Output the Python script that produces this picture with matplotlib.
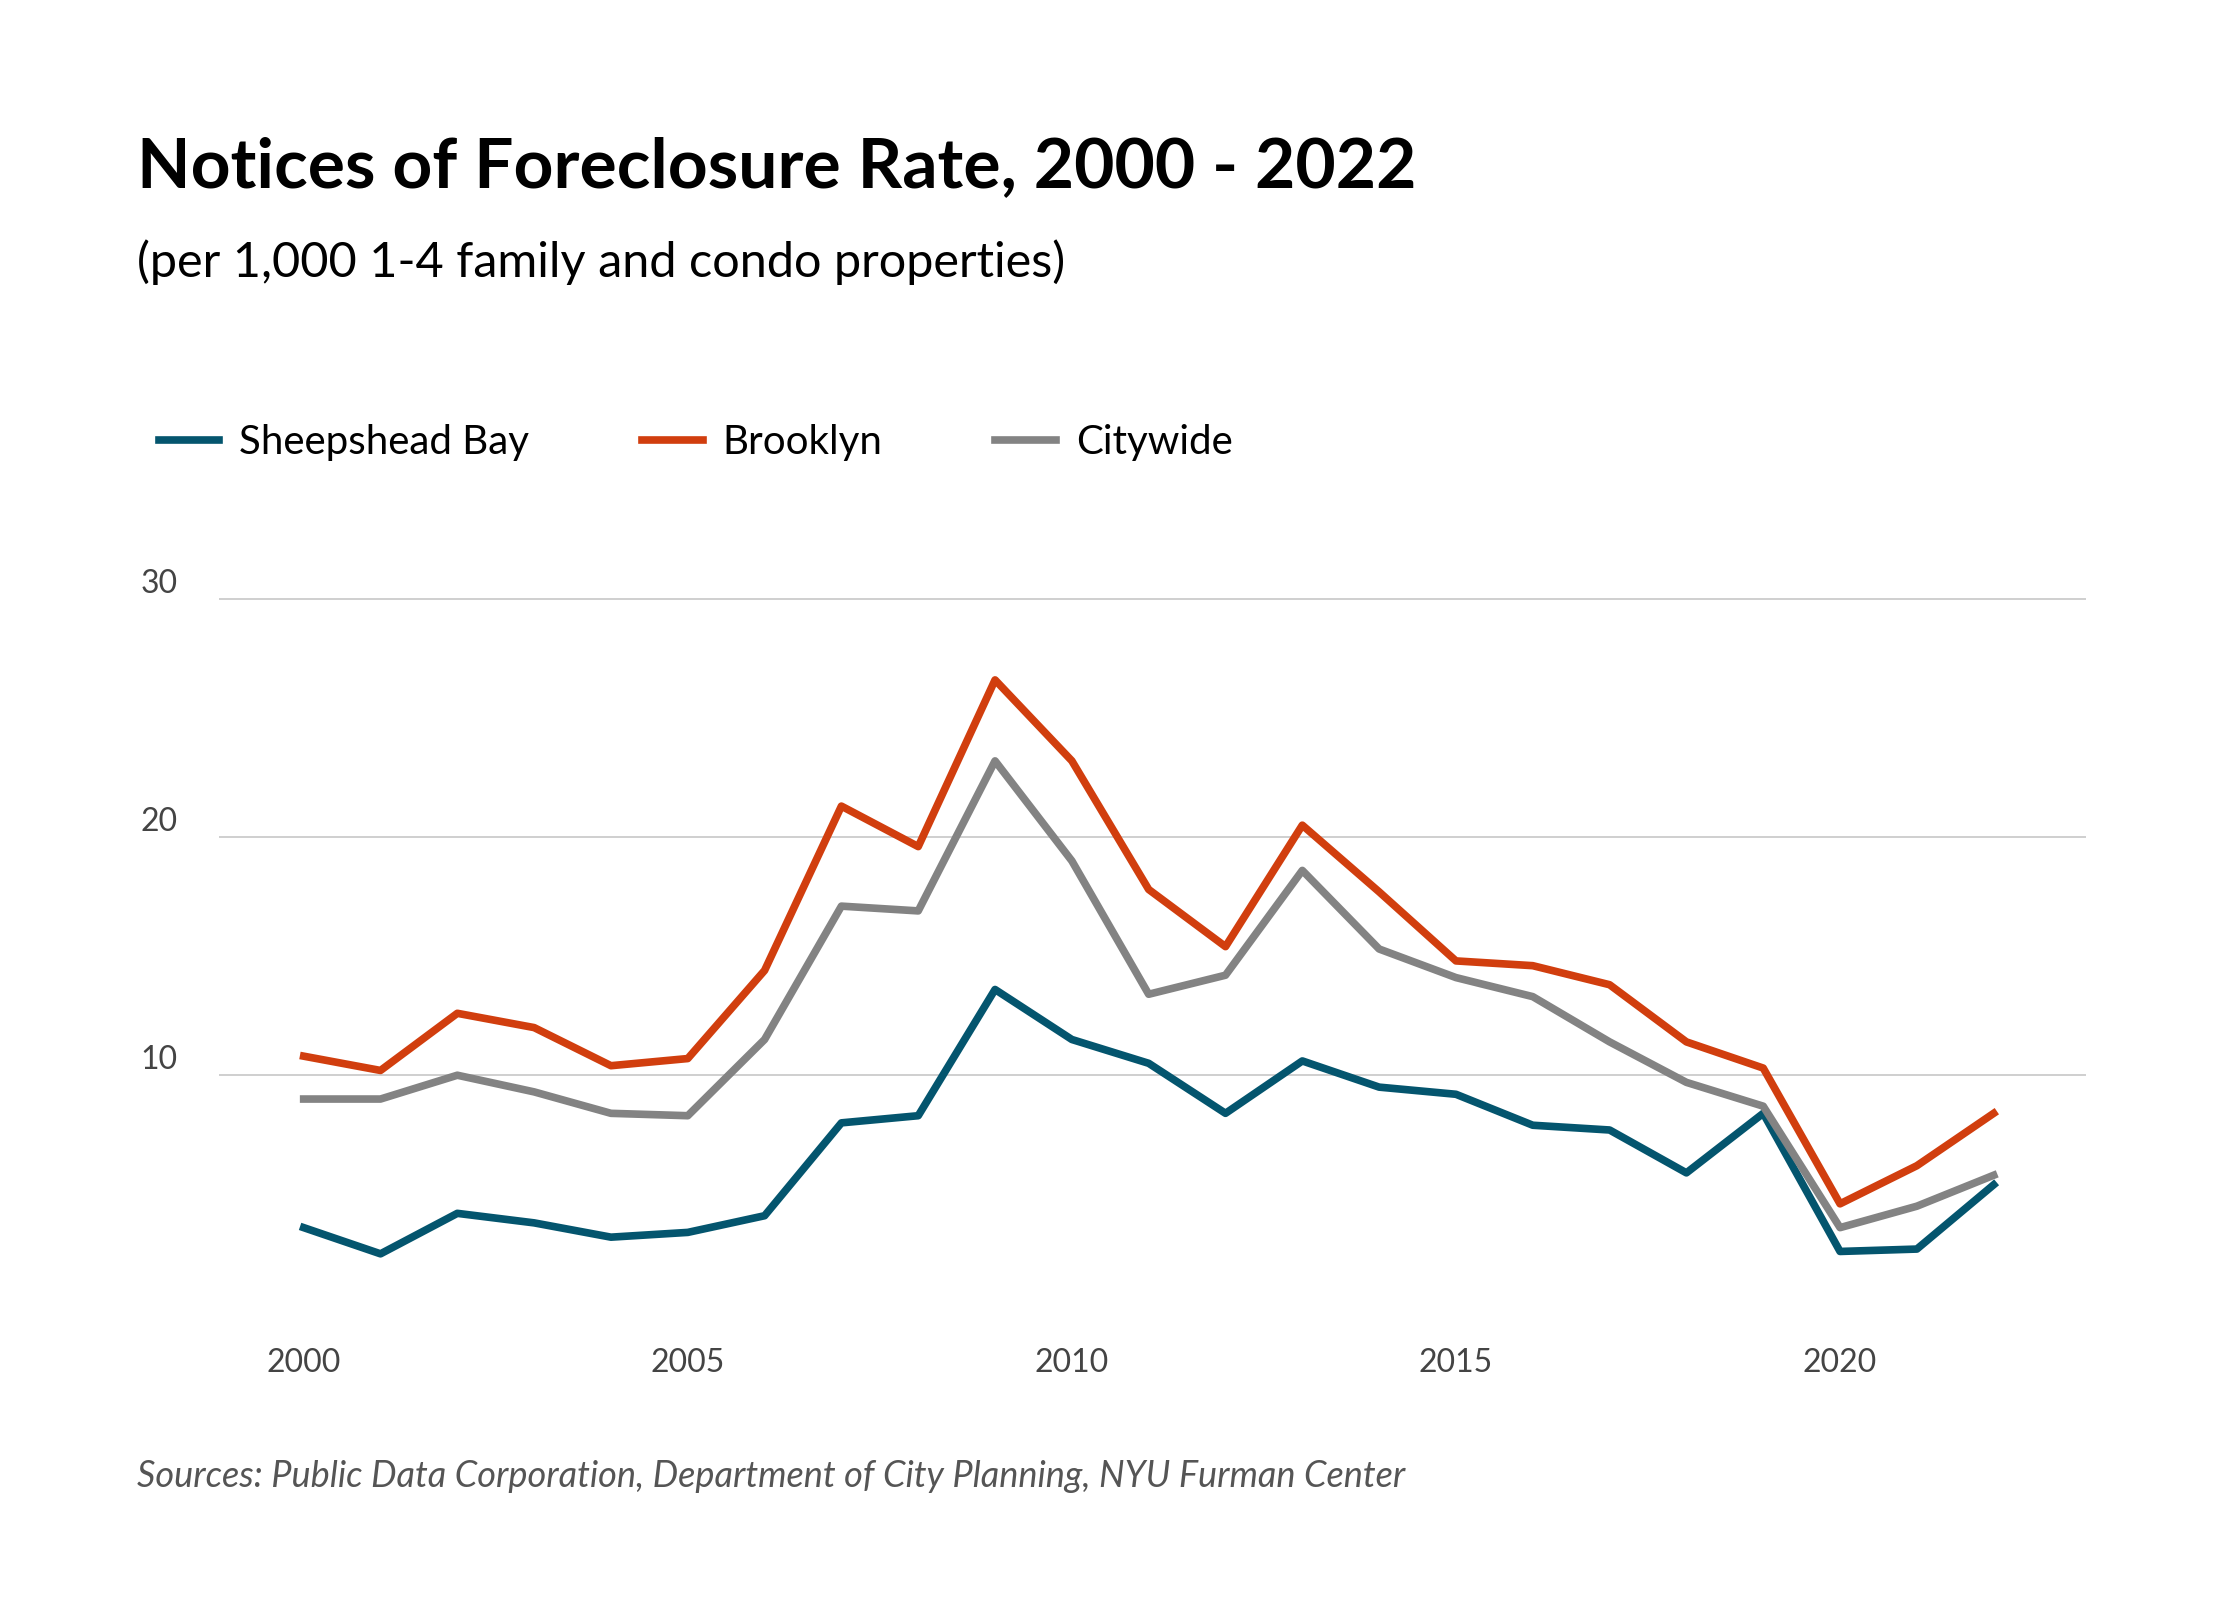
import matplotlib.pyplot as plt

years = list(range(2000, 2023))
sheepshead = [3.6, 2.5, 4.2, 3.8, 3.2, 3.4, 4.1, 8.0, 8.3, 13.6, 11.5, 10.5, 8.4,
              10.6, 9.5, 9.2, 7.9, 7.7, 5.9, 8.4, 2.6, 2.7, 5.4]
brooklyn = [10.8, 10.2, 12.6, 12.0, 10.4, 10.7, 14.4, 21.3, 19.6, 26.6, 23.2, 17.8, 15.4,
            20.5, 17.7, 14.8, 14.6, 13.8, 11.4, 10.3, 4.6, 6.2, 8.4]
citywide = [9.0, 9.0, 10.0, 9.3, 8.4, 8.3, 11.5, 17.1, 16.9, 23.2, 19.0, 13.4, 14.2,
            18.6, 15.3, 14.1, 13.3, 11.4, 9.7, 8.7, 3.6, 4.5, 5.8]
xticks = [2000, 2005, 2010, 2015, 2020]
yticks = [10, 20, 30]

plt.rcParams['font.family'] = ['Lato', 'DejaVu Sans']

fig = plt.figure(figsize=(22.4, 16), dpi=100)
# reference measured in a ~1584x1122 frame
W, H = 1584, 1122
ax = fig.add_axes([155 / W, 1 - 921 / H, 1320 / W, (921 - 420) / H * 30.6 / 30])

ax.plot(years, sheepshead, color='#04556e', lw=5.5, label='Sheepshead Bay')
ax.plot(years, brooklyn, color='#d13e0e', lw=5.5, label='Brooklyn')
ax.plot(years, citywide, color='#838383', lw=5.5, label='Citywide')

ax.set_ylim(0, 30.6)
ax.set_xlim(1998.9, 2023.2)
ax.set_yticks(yticks)
ax.set_xticks(xticks)
ax.grid(axis='y', color='#cccccc', lw=1.3)
ax.set_axisbelow(True)
for s in ax.spines.values():
    s.set_visible(False)
ax.tick_params(length=0, labelsize=23, colors='#444444')
ax.tick_params(axis='y', pad=30)
ax.tick_params(axis='x', pad=25)
for t in ax.get_yticklabels():
    t.set_verticalalignment('bottom')

fig.text(95 / 1552, 1 - 115 / 1100, 'Notices of Foreclosure Rate, 2000 - 2022',
         fontsize=50, fontweight='bold', va='center')
fig.text(95 / 1552, 1 - 180 / 1100, '(per 1,000 1-4 family and condo properties)',
         fontsize=35, va='center')
fig.text(95 / 1552, 1 - 1015 / 1100,
         'Sources: Public Data Corporation, Department of City Planning, NYU Furman Center',
         fontsize=26, style='italic', color='#555555', va='center')

fig.legend(loc='center left', bbox_to_anchor=(85 / 1552, 1 - 304 / 1100), ncol=3,
           frameon=False, fontsize=29, handlelength=1.5, columnspacing=2.8,
           handletextpad=0.5)

fig.savefig('out.png', dpi=100, facecolor='white')
